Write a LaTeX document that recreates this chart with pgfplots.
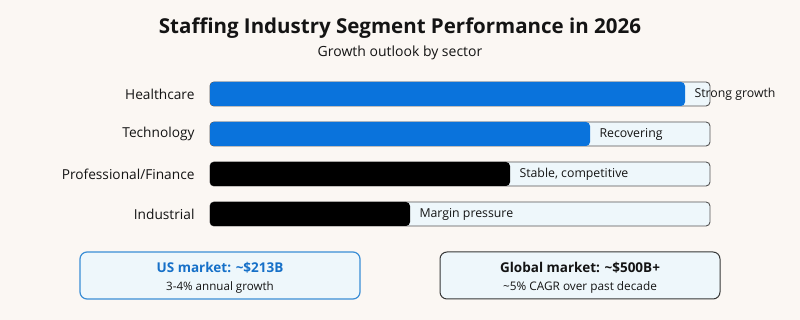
\documentclass[border=0pt]{standalone}
\usepackage{pgfplots}
\pgfplotsset{compat=1.18}
\usepackage{pgfplotstable}
\usepackage{fontspec}
\setmainfont{Open Sans}

\definecolor{bgcol}{HTML}{FBF7F3}
\definecolor{trackfill}{HTML}{EEF7FB}
\definecolor{trackline}{HTML}{555555}
\definecolor{barblue}{HTML}{0A73DC}
\definecolor{barblack}{HTML}{000000}
\definecolor{boxblue}{HTML}{3A8ED6}
\definecolor{textblue}{HTML}{1670C8}
\definecolor{ink}{HTML}{141414}

% growth outlook per sector (position, relative score, status)
\pgfplotstableread{
pos score status
3 95 {Strong growth}
2 76 {Recovering}
}\growthtab
\pgfplotstableread{
pos score status
1 60 {Stable, competitive}
0 40 {Margin pressure}
}\steadytab

\begin{document}
\begin{tikzpicture}[x=1pt,y=1pt]
\fill[bgcol] (0,0) rectangle (800,320);

\node[font=\bfseries\fontsize{20.5}{24}\selectfont, text=ink] at (400,292) {Staffing Industry Segment Performance in 2026};
\node[font=\fontsize{14}{17}\selectfont, text=ink] at (400,267) {Growth outlook by sector};

\begin{axis}[
  at={(210pt,86pt)}, anchor=south west,
  scale only axis, width=500pt, height=160pt,
  xmin=0, xmax=100, ymin=-0.5, ymax=3.5,
  axis line style={draw=none},
  xtick=\empty,
  ytick={0,1,2,3},
  yticklabels={Industrial, Professional/Finance, Technology, Healthcare},
  major tick length=0pt,
  yticklabel style={font=\fontsize{13.7}{16}\selectfont, text=ink, anchor=east, xshift=-12pt},
  clip=false,
]
% background tracks
\addplot[xbar, bar shift=0pt, bar width=24pt, fill=trackfill, draw=trackline, line width=0.9pt, rounded corners=4pt]
  coordinates {(100,0) (100,1) (100,2) (100,3)};
% growth sectors
\addplot[xbar, bar shift=0pt, bar width=24pt, fill=barblue, draw=none, rounded corners=4pt,
  point meta=explicit symbolic, nodes near coords,
  nodes near coords style={anchor=west, xshift=6pt, font=\fontsize{12.3}{15}\selectfont, text=ink}]
  table[x=score, y=pos, meta=status] {\growthtab};
% steady / pressured sectors
\addplot[xbar, bar shift=0pt, bar width=24pt, fill=barblack, draw=none, rounded corners=4pt,
  point meta=explicit symbolic, nodes near coords,
  nodes near coords style={anchor=west, xshift=6pt, font=\fontsize{12.3}{15}\selectfont, text=ink}]
  table[x=score, y=pos, meta=status] {\steadytab};
\end{axis}

% market size callouts
\draw[boxblue, fill=trackfill, line width=1.2pt, rounded corners=7pt] (80,21) rectangle (360,68);
\node[font=\bfseries\fontsize{13.5}{16}\selectfont, text=textblue] at (220,52) {US market: \textasciitilde\$213B};
\node[font=\fontsize{11.6}{14}\selectfont, text=ink] at (220,33) {3-4\% annual growth};

\draw[ink!85, fill=trackfill, line width=1pt, rounded corners=7pt] (440,21) rectangle (720,68);
\node[font=\bfseries\fontsize{13.5}{16}\selectfont, text=ink] at (580,52) {Global market: \textasciitilde\$500B+};
\node[font=\fontsize{11.8}{14}\selectfont, text=ink] at (580,33) {\textasciitilde5\% CAGR over past decade};
\end{tikzpicture}
\end{document}
